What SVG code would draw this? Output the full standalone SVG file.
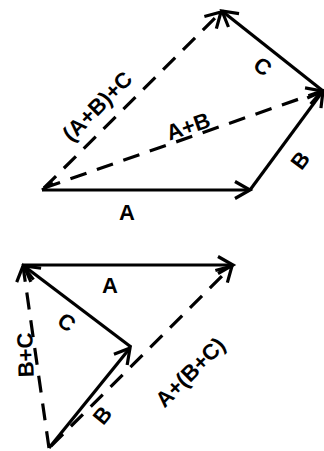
<svg xmlns="http://www.w3.org/2000/svg" width="324" height="451" viewBox="0 0 324 451">
<style>
.v{fill:none;stroke:#000;stroke-width:3.2;marker-end:url(#ah)}
.d{stroke-dasharray:17 11}
.t{font-family:"Liberation Sans",Arial,sans-serif;font-weight:bold;font-size:22px;text-anchor:middle;fill:#000}
</style>
<defs>
<marker id="ah" markerUnits="userSpaceOnUse" orient="auto" refX="0" refY="0" markerWidth="30" markerHeight="30" viewBox="-20 -15 30 30" overflow="visible">
<path d="M-15,-8.5 L0,0 L-15,8.5" fill="none" stroke="#000" stroke-width="3.2" stroke-dasharray="none"/>
</marker>
</defs>
<rect width="324" height="451" fill="#fff"/>
<g id="connectors">
<g id="top">
<line class="v" x1="42" y1="190" x2="250" y2="190"/>
<line class="v" x1="250" y1="190" x2="323" y2="91"/>
<line class="v" x1="323" y1="91" x2="222" y2="11"/>
<line class="v d" x1="44" y1="188" x2="322" y2="91"/>
<line class="v d" x1="44" y1="188" x2="221" y2="12"/>
<line x1="42" y1="190" x2="53" y2="183" stroke="#000" stroke-width="3.2"/>
</g>
<g id="bottom">
<line class="v" x1="23" y1="265" x2="233" y2="265"/>
<line class="v" x1="131" y1="347" x2="24" y2="266"/>
<line class="v" x1="49" y1="448" x2="130" y2="348"/>
<line class="v d" x1="49" y1="448" x2="23" y2="266"/>
<line class="v d" x1="51" y1="446" x2="232" y2="266"/>
</g>
</g>
<g id="labels">
<text class="t" x="127" y="220">A</text>
<text class="t" transform="translate(188,126) rotate(-19)" y="8">A+B</text>
<text class="t" transform="translate(97,106) rotate(-45)" y="8">(A+B)+C</text>
<text class="t" transform="translate(263,66) rotate(38)" y="8">C</text>
<text class="t" transform="translate(300,160) rotate(-53)" y="8">B</text>
<text class="t" x="110" y="293">A</text>
<text class="t" transform="translate(67,322) rotate(37)" y="8">C</text>
<text class="t" transform="translate(25,355) rotate(-92)" y="8">B+C</text>
<text class="t" transform="translate(190,372) rotate(-45)" y="8">A+(B+C)</text>
<text class="t" transform="translate(102,415) rotate(-51)" y="8">B</text>
</g>
</svg>
